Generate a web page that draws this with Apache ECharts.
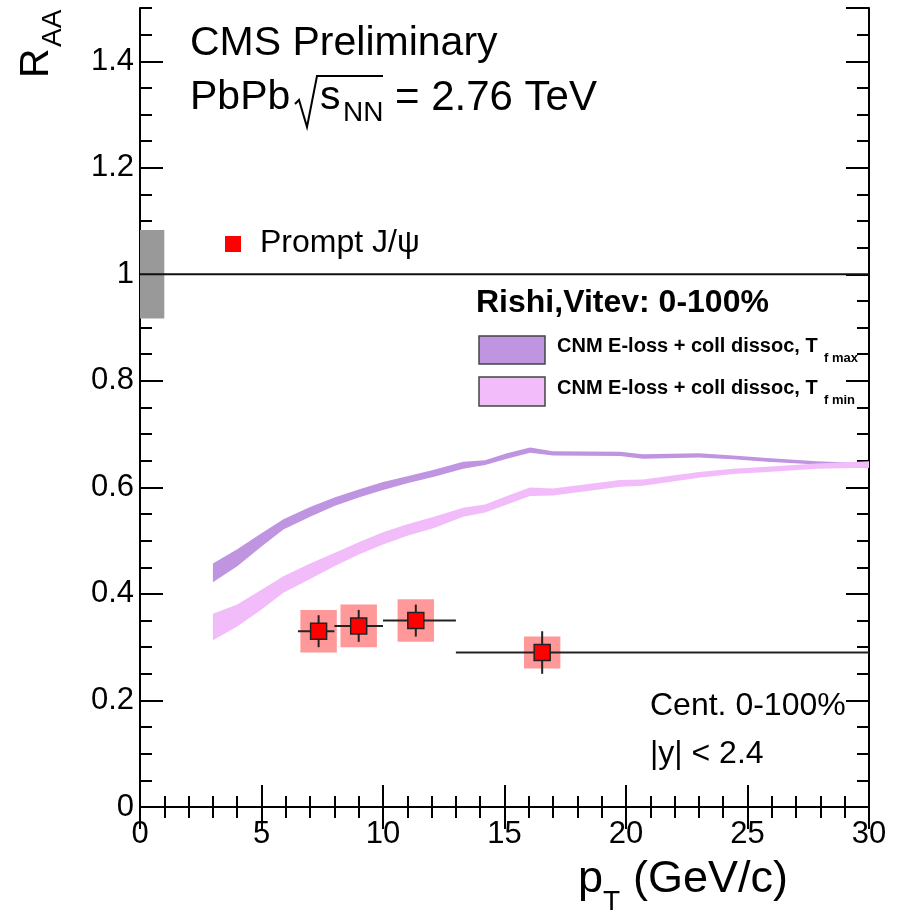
<!DOCTYPE html>
<html>
<head>
<meta charset="utf-8">
<script src="https://cdn.jsdelivr.net/npm/echarts@6/dist/echarts.min.js"></script>
<style>
html, body { margin: 0; padding: 0; background: #fff; }
#raaChart { width: 901px; height: 924px; }
</style>
</head>
<body>
<div id="raaChart"></div>
<script>
// prompt J/psi points
const ptCenters = [7.35, 9.0, 11.35, 16.55]
const ptLow = [6.5, 8, 10, 13]
const ptHigh = [8, 10, 13, 30]
const raa = [0.33, 0.34, 0.35, 0.29]
const statErr = [0.03, 0.03, 0.03, 0.04]
const systErr = [0.04, 0.04, 0.04, 0.03]
const systHalfWidth = 0.75

// global uncertainty box at R=1
const globalBox = [[0, 1, 1, 0.083]]
const unityLine = [[0, 1], [30, 1]]

// Rishi, Vitev bands
const bandPt = [3, 4, 5, 5.9, 7, 8, 9, 10, 11, 12.1, 13.3, 14.2, 15.1, 16.05, 17, 19.75, 20.7, 23, 24.4, 25.8, 27.85, 30]
const tfMaxHigh = [0.457, 0.484, 0.514, 0.540, 0.563, 0.581, 0.596, 0.610, 0.621, 0.633, 0.648, 0.651, 0.664, 0.675, 0.668, 0.667, 0.662, 0.664, 0.660, 0.655, 0.649, 0.645]
const tfMaxLow = [0.422, 0.452, 0.489, 0.521, 0.545, 0.565, 0.581, 0.595, 0.608, 0.620, 0.635, 0.642, 0.654, 0.665, 0.660, 0.659, 0.654, 0.656, 0.653, 0.648, 0.643, 0.636]
const tfMinHigh = [0.363, 0.380, 0.408, 0.433, 0.457, 0.477, 0.497, 0.516, 0.531, 0.545, 0.562, 0.568, 0.584, 0.600, 0.598, 0.614, 0.615, 0.629, 0.635, 0.639, 0.645, 0.649]
const tfMinLow = [0.313, 0.339, 0.371, 0.402, 0.428, 0.452, 0.474, 0.493, 0.509, 0.524, 0.545, 0.553, 0.568, 0.584, 0.585, 0.601, 0.603, 0.618, 0.625, 0.629, 0.635, 0.637]

const xTicks = [0, 5, 10, 15, 20, 25, 30]
const yTicks = [0, 0.2, 0.4, 0.6, 0.8, 1, 1.2, 1.4]

const FONT = 'Liberation Sans'
const maxColor = '#bf94e0'
const minColor = '#f2bbfa'

// band drawn as one polygon: upper edge left->right, lower edge right->left
function bandSeries (name, low, high, color, z) {
  return {
    name: name,
    type: 'custom',
    silent: true,
    renderItem (params, api) {
      if (params.dataIndex !== 0) return null
      const pts = []
      for (let i = 0; i < bandPt.length; i++) pts.push(api.coord([bandPt[i], high[i]]))
      for (let i = bandPt.length - 1; i >= 0; i--) pts.push(api.coord([bandPt[i], low[i]]))
      return { type: 'polygon', shape: { points: pts }, style: { fill: color } }
    },
    data: bandPt.map((x, i) => [x, low[i], high[i]]),
    z: z
  }
}

const chart = echarts.init(document.getElementById('raaChart'), null, { renderer: 'canvas' })

const axisLineStyle = { color: '#000', width: 2 }

const option = {
  animation: false,
  backgroundColor: '#fff',
  grid: { left: 140, right: 32, top: 8, bottom: 117, containLabel: false },
  xAxis: [
    {
      type: 'value', min: 0, max: 30, interval: 5, position: 'bottom',
      axisLine: { show: true, lineStyle: axisLineStyle },
      axisTick: { show: true, inside: true, length: 22, lineStyle: { color: '#000', width: 2 } },
      minorTick: { show: true, splitNumber: 5, length: 11, lineStyle: { color: '#000', width: 2 } },
      axisLabel: {
        fontFamily: FONT, fontSize: 31, color: '#000', margin: 12,
        formatter: v => (xTicks.includes(v) ? String(v) : '')
      },
      splitLine: { show: false }
    },
    {
      type: 'value', min: 0, max: 30, interval: 5, position: 'top',
      axisLine: { show: true, lineStyle: axisLineStyle },
      axisTick: { show: true, inside: true, length: 22, lineStyle: { color: '#000', width: 2 } },
      minorTick: { show: true, splitNumber: 5, length: 11, lineStyle: { color: '#000', width: 2 } },
      axisLabel: { show: false },
      splitLine: { show: false }
    }
  ],
  yAxis: [
    {
      type: 'value', min: 0, max: 1.5, interval: 0.2, position: 'left',
      axisLine: { show: true, lineStyle: axisLineStyle },
      axisTick: { show: true, inside: true, length: 23, lineStyle: { color: '#000', width: 2 } },
      axisLabel: {
        fontFamily: FONT, fontSize: 31, color: '#000', margin: 6, showMaxLabel: false,
        formatter: v => (yTicks.some(t => Math.abs(t - v) < 1e-6) ? String(Math.round(v * 10) / 10) : '')
      },
      splitLine: { show: false }
    },
    {
      type: 'value', min: 0, max: 1.5, interval: 0.05, position: 'left',
      axisLine: { show: false },
      axisTick: { show: true, inside: true, length: 12, lineStyle: { color: '#000', width: 2 } },
      axisLabel: { show: false },
      splitLine: { show: false }
    },
    {
      type: 'value', min: 0, max: 1.5, interval: 0.2, position: 'right',
      axisLine: { show: true, lineStyle: axisLineStyle },
      axisTick: { show: true, inside: true, length: 23, lineStyle: { color: '#000', width: 2 } },
      axisLabel: { show: false },
      splitLine: { show: false }
    },
    {
      type: 'value', min: 0, max: 1.5, interval: 0.05, position: 'right',
      axisLine: { show: false },
      axisTick: { show: true, inside: true, length: 12, lineStyle: { color: '#000', width: 2 } },
      axisLabel: { show: false },
      splitLine: { show: false }
    }
  ],
  series: [
    // global uncertainty
    {
      type: 'custom',
      silent: true,
      renderItem (params, api) {
        const p0 = api.coord([api.value(0), api.value(1) + api.value(3)])
        const p1 = api.coord([api.value(2), api.value(1) - api.value(3)])
        return {
          type: 'rect',
          shape: { x: p0[0], y: p0[1], width: p1[0] - p0[0], height: p1[1] - p0[1] },
          style: { fill: '#999999' }
        }
      },
      data: globalBox,
      z: 1
    },
    {
      type: 'line',
      data: unityLine,
      symbol: 'none',
      lineStyle: { color: '#111', width: 2 },
      silent: true,
      z: 2
    },
    bandSeries('tfmax', tfMaxLow, tfMaxHigh, maxColor, 2),
    bandSeries('tfmin', tfMinLow, tfMinHigh, minColor, 2),
    // systematic boxes
    {
      type: 'custom',
      silent: true,
      renderItem (params, api) {
        const i = params.dataIndex
        const x = api.value(0)
        const y = api.value(1)
        const p0 = api.coord([x - systHalfWidth, y + systErr[i]])
        const p1 = api.coord([x + systHalfWidth, y - systErr[i]])
        return {
          type: 'rect',
          shape: { x: p0[0], y: p0[1], width: p1[0] - p0[0], height: p1[1] - p0[1] },
          style: { fill: 'rgba(255,0,0,0.4)' }
        }
      },
      data: ptCenters.map((x, i) => [x, raa[i]]),
      z: 3
    },
    // stat errors and bin widths
    {
      type: 'custom',
      silent: true,
      renderItem (params, api) {
        const i = params.dataIndex
        const x = api.value(0)
        const y = api.value(1)
        const l = api.coord([ptLow[i], y])
        const r = api.coord([ptHigh[i], y])
        const t = api.coord([x, y + statErr[i]])
        const b = api.coord([x, y - statErr[i]])
        return {
          type: 'group',
          children: [
            { type: 'line', shape: { x1: l[0], y1: l[1], x2: r[0], y2: r[1] }, style: { stroke: '#222', lineWidth: 2 } },
            { type: 'line', shape: { x1: t[0], y1: t[1], x2: b[0], y2: b[1] }, style: { stroke: '#222', lineWidth: 2 } }
          ]
        }
      },
      data: ptCenters.map((x, i) => [x, raa[i]]),
      z: 4
    },
    {
      name: 'Prompt J/ψ',
      type: 'scatter',
      data: ptCenters.map((x, i) => [x, raa[i]]),
      symbol: 'rect',
      symbolSize: 16,
      itemStyle: { color: '#ff0000', borderColor: '#222', borderWidth: 1.5, opacity: 1 },
      silent: true,
      z: 5
    }
  ],
  graphic: {
    elements: [
      // y axis title
      { type: 'text', z: 100, x: 37, y: 78, rotation: Math.PI / 2, style: { text: 'R', font: '41px ' + FONT, fill: '#000', align: 'left', verticalAlign: 'middle' } },
      { type: 'text', z: 100, x: 53, y: 47, rotation: Math.PI / 2, style: { text: 'AA', font: '28px ' + FONT, fill: '#000', align: 'left', verticalAlign: 'middle' } },
      // x axis title
      { type: 'text', z: 100, x: 578, y: 880, style: { text: 'p', font: '45px ' + FONT, fill: '#000', align: 'left', verticalAlign: 'middle' } },
      { type: 'text', z: 100, x: 603, y: 902, style: { text: 'T', font: '28px ' + FONT, fill: '#000', align: 'left', verticalAlign: 'middle' } },
      { type: 'text', z: 100, x: 633, y: 880, style: { text: '(GeV/c)', font: '45px ' + FONT, fill: '#000', align: 'left', verticalAlign: 'middle' } },
      // CMS header
      { type: 'text', z: 100, x: 190, y: 44, style: { text: 'CMS Preliminary', font: '41px ' + FONT, fill: '#000', align: 'left', verticalAlign: 'middle' } },
      { type: 'text', z: 100, x: 190, y: 98, style: { text: 'PbPb', font: '41px ' + FONT, fill: '#000', align: 'left', verticalAlign: 'middle' } },
      { type: 'polyline', z: 100, shape: { points: [[295, 104], [299, 100], [307, 127], [317, 76], [383, 76]] }, style: { stroke: '#000', lineWidth: 2, fill: null } },
      { type: 'text', z: 100, x: 320, y: 98, style: { text: 's', font: '41px ' + FONT, fill: '#000', align: 'left', verticalAlign: 'middle' } },
      { type: 'text', z: 100, x: 343, y: 113, style: { text: 'NN', font: '28px ' + FONT, fill: '#000', align: 'left', verticalAlign: 'middle' } },
      { type: 'text', z: 100, x: 395, y: 98, style: { text: '= 2.76 TeV', font: '42px ' + FONT, fill: '#000', align: 'left', verticalAlign: 'middle' } },
      // data legend
      { type: 'rect', z: 100, shape: { x: 225, y: 236, width: 16, height: 16 }, style: { fill: '#ff0000' } },
      { type: 'text', z: 100, x: 260, y: 243, style: { text: 'Prompt J/ψ', font: '32px ' + FONT, fill: '#000', align: 'left', verticalAlign: 'middle' } },
      // theory legend
      { type: 'text', z: 100, x: 476, y: 303, style: { text: 'Rishi,Vitev: 0-100%', font: 'bold 32px ' + FONT, fill: '#000', align: 'left', verticalAlign: 'middle' } },
      { type: 'rect', z: 100, shape: { x: 479, y: 336, width: 66, height: 28 }, style: { fill: maxColor, stroke: '#444', lineWidth: 1.5 } },
      { type: 'text', z: 100, x: 557, y: 346, style: { text: 'CNM E-loss + coll dissoc, T', font: 'bold 20px ' + FONT, fill: '#000', align: 'left', verticalAlign: 'middle' } },
      { type: 'text', z: 100, x: 824, y: 358, style: { text: 'f max', font: 'bold 13px ' + FONT, fill: '#000', align: 'left', verticalAlign: 'middle' } },
      { type: 'rect', z: 100, shape: { x: 479, y: 377, width: 66, height: 29 }, style: { fill: minColor, stroke: '#444', lineWidth: 1.5 } },
      { type: 'text', z: 100, x: 557, y: 388, style: { text: 'CNM E-loss + coll dissoc, T', font: 'bold 20px ' + FONT, fill: '#000', align: 'left', verticalAlign: 'middle' } },
      { type: 'text', z: 100, x: 824, y: 400, style: { text: 'f min', font: 'bold 13px ' + FONT, fill: '#000', align: 'left', verticalAlign: 'middle' } },
      // selection text
      { type: 'text', z: 100, x: 650, y: 706, style: { text: 'Cent. 0-100%', font: '32px ' + FONT, fill: '#000', align: 'left', verticalAlign: 'middle' } },
      { type: 'text', z: 100, x: 650, y: 754, style: { text: '|y| < 2.4', font: '32px ' + FONT, fill: '#000', align: 'left', verticalAlign: 'middle' } }
    ]
  }
}

chart.setOption(option)
</script>
</body>
</html>
